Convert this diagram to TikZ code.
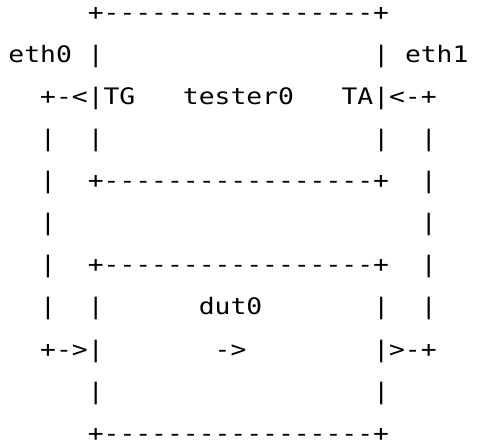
\documentclass[tikz,border=0pt]{standalone}
\usepackage{fontspec}
\setmonofont[FakeStretch=1.16]{DejaVu Sans Mono}
\tikzset{
  ascii/.style={anchor=base west, inner sep=0pt, outer sep=0pt,
    font=\ttfamily\fontsize{22.7pt}{22.7pt}\selectfont, text=black}
}
\newcommand{\cell}[4]{\node[ascii] (#1) at ({8.5pt+#3*15.86pt},{423.5pt-#2*42.07pt}) {#4};}
\begin{document}
\begin{tikzpicture}
\useasboundingbox[fill=white] (0pt,0pt) rectangle (477pt,444pt);
% row 0
\cell{topA}{0}{5}{+-----------------+}
% row 1
\cell{ethzero}{1}{0}{eth0}
\cell{tAl1}{1}{5}{|}
\cell{tAr1}{1}{23}{|}
\cell{ethone}{1}{25}{eth1}
% row 2
\cell{tgport}{2}{2}{+-<|TG}
\cell{tester}{2}{11}{tester0}
\cell{taport}{2}{21}{TA|<-+}
% row 3
\cell{wl3}{3}{2}{|}
\cell{tAl3}{3}{5}{|}
\cell{tAr3}{3}{23}{|}
\cell{wr3}{3}{26}{|}
% row 4
\cell{wl4}{4}{2}{|}
\cell{topB}{4}{5}{+-----------------+}
\cell{wr4}{4}{26}{|}
% row 5
\cell{wl5}{5}{2}{|}
\cell{wr5}{5}{26}{|}
% row 6
\cell{wl6}{6}{2}{|}
\cell{dutA}{6}{5}{+-----------------+}
\cell{wr6}{6}{26}{|}
% row 7
\cell{wl7}{7}{2}{|}
\cell{dAl7}{7}{5}{|}
\cell{dut}{7}{12}{dut0}
\cell{dAr7}{7}{23}{|}
\cell{wr7}{7}{26}{|}
% row 8
\cell{inport}{8}{2}{+->|}
\cell{fwd}{8}{13}{->}
\cell{outport}{8}{23}{|>-+}
% row 9
\cell{dAl9}{9}{5}{|}
\cell{dAr9}{9}{23}{|}
% row 10
\cell{dutB}{10}{5}{+-----------------+}
\end{tikzpicture}
\end{document}
